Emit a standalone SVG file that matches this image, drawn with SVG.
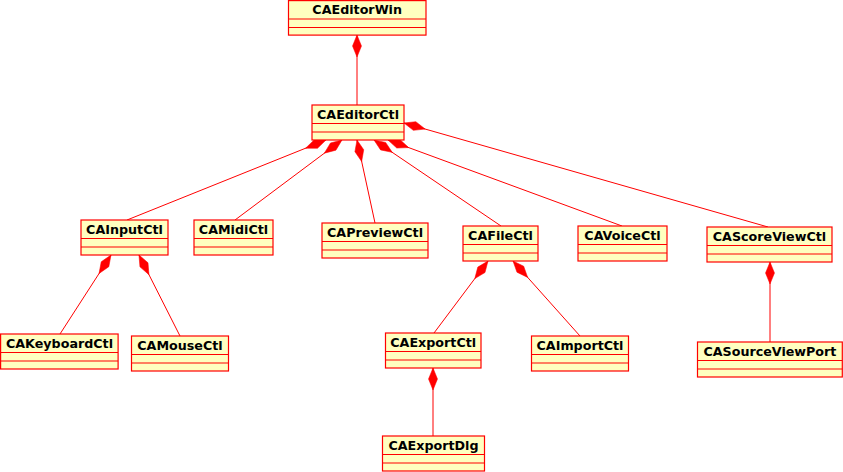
<svg xmlns="http://www.w3.org/2000/svg" width="843" height="472" viewBox="0 0 843 472">
<defs>
<style>
.box{fill:#ffffc0;stroke:#ff0000;stroke-width:1.2}
.div{stroke:#ff0000;stroke-width:1.2}
.t{font-family:"DejaVu Sans","Liberation Sans",sans-serif;font-weight:bold;font-size:12.7px;fill:#000;text-anchor:middle}
.c{stroke:#ff0000;stroke-width:1;fill:none;marker-end:url(#dia)}
</style>
<marker id="dia" markerUnits="userSpaceOnUse" viewBox="-23 -5 24 10" refX="0" refY="0" markerWidth="24" markerHeight="10" orient="auto" overflow="visible">
<path d="M0,0 L-11,-4.5 L-22,0 L-11,4.5 Z" fill="#ff0000" stroke="#ff0000" stroke-width="0.5"/>
</marker>
</defs>
<rect width="843" height="472" fill="#ffffff"/>
<g id="connectors">
<line class="c" x1="357" y1="105" x2="357" y2="35"/>
<line class="c" x1="127" y1="220" x2="326" y2="140"/>
<line class="c" x1="235" y1="220" x2="342" y2="140"/>
<line class="c" x1="375" y1="223" x2="357" y2="140"/>
<line class="c" x1="501" y1="226" x2="374" y2="140"/>
<line class="c" x1="622" y1="226" x2="388" y2="140"/>
<line class="c" x1="768" y1="227" x2="404" y2="123"/>
<line class="c" x1="60" y1="334" x2="111" y2="255"/>
<line class="c" x1="180" y1="336" x2="139" y2="255"/>
<line class="c" x1="434" y1="333" x2="488" y2="261"/>
<line class="c" x1="580" y1="336" x2="513" y2="261"/>
<line class="c" x1="433" y1="436" x2="433" y2="368"/>
<line class="c" x1="770" y1="342" x2="770" y2="262"/>
</g>
<g id="CAEditorWin">
<rect class="box" x="288.5" y="0.6" width="137.5" height="34.5"/>
<line class="div" x1="288.5" y1="19" x2="426" y2="19"/>
<line class="div" x1="288.5" y1="27.5" x2="426" y2="27.5"/>
<text class="t" x="357.2" y="13.8">CAEditorWin</text>
</g>
<g id="CAEditorCtl">
<rect class="box" x="312" y="105" width="92" height="35"/>
<line class="div" x1="312" y1="123.5" x2="404" y2="123.5"/>
<line class="div" x1="312" y1="132" x2="404" y2="132"/>
<text class="t" x="358" y="118.5">CAEditorCtl</text>
</g>
<g id="CAInputCtl">
<rect class="box" x="81" y="220" width="87" height="35"/>
<line class="div" x1="81" y1="238.5" x2="168" y2="238.5"/>
<line class="div" x1="81" y1="247" x2="168" y2="247"/>
<text class="t" x="124.5" y="233.5">CAInputCtl</text>
</g>
<g id="CAMidiCtl">
<rect class="box" x="194" y="220" width="79" height="35"/>
<line class="div" x1="194" y1="238.5" x2="273" y2="238.5"/>
<line class="div" x1="194" y1="247" x2="273" y2="247"/>
<text class="t" x="233.5" y="233.5">CAMidiCtl</text>
</g>
<g id="CAPreviewCtl">
<rect class="box" x="322" y="223" width="106" height="35"/>
<line class="div" x1="322" y1="241.5" x2="428" y2="241.5"/>
<line class="div" x1="322" y1="250" x2="428" y2="250"/>
<text class="t" x="375" y="236.5">CAPreviewCtl</text>
</g>
<g id="CAFileCtl">
<rect class="box" x="463" y="226" width="75" height="35"/>
<line class="div" x1="463" y1="244.5" x2="538" y2="244.5"/>
<line class="div" x1="463" y1="253" x2="538" y2="253"/>
<text class="t" x="500.5" y="239.5">CAFileCtl</text>
</g>
<g id="CAVoiceCtl">
<rect class="box" x="578" y="226" width="89" height="35"/>
<line class="div" x1="578" y1="244.5" x2="667" y2="244.5"/>
<line class="div" x1="578" y1="253" x2="667" y2="253"/>
<text class="t" x="622.5" y="239.5">CAVoiceCtl</text>
</g>
<g id="CAScoreViewCtl">
<rect class="box" x="707" y="227" width="125" height="35"/>
<line class="div" x1="707" y1="245.5" x2="832" y2="245.5"/>
<line class="div" x1="707" y1="254" x2="832" y2="254"/>
<text class="t" x="769.5" y="240.5">CAScoreViewCtl</text>
</g>
<g id="CAKeyboardCtl">
<rect class="box" x="0.6" y="334" width="117.5" height="35"/>
<line class="div" x1="0.6" y1="352.5" x2="118" y2="352.5"/>
<line class="div" x1="0.6" y1="361" x2="118" y2="361"/>
<text class="t" x="59.5" y="347.5">CAKeyboardCtl</text>
</g>
<g id="CAMouseCtl">
<rect class="box" x="131.5" y="336" width="97" height="35"/>
<line class="div" x1="131.5" y1="354.5" x2="228.5" y2="354.5"/>
<line class="div" x1="131.5" y1="363" x2="228.5" y2="363"/>
<text class="t" x="180" y="349.5">CAMouseCtl</text>
</g>
<g id="CAExportCtl">
<rect class="box" x="385.5" y="333" width="95.5" height="35"/>
<line class="div" x1="385.5" y1="351.5" x2="481" y2="351.5"/>
<line class="div" x1="385.5" y1="360" x2="481" y2="360"/>
<text class="t" x="433.2" y="346.5">CAExportCtl</text>
</g>
<g id="CAImportCtl">
<rect class="box" x="531.5" y="336" width="97" height="35"/>
<line class="div" x1="531.5" y1="354.5" x2="628.5" y2="354.5"/>
<line class="div" x1="531.5" y1="363" x2="628.5" y2="363"/>
<text class="t" x="580" y="349.5">CAImportCtl</text>
</g>
<g id="CASourceViewPort">
<rect class="box" x="697.5" y="342" width="144.8" height="35"/>
<line class="div" x1="697.5" y1="360.5" x2="842.3" y2="360.5"/>
<line class="div" x1="697.5" y1="369" x2="842.3" y2="369"/>
<text class="t" x="769.9" y="355.5">CASourceViewPort</text>
</g>
<g id="CAExportDlg">
<rect class="box" x="382.5" y="436" width="102" height="35"/>
<line class="div" x1="382.5" y1="454.5" x2="484.5" y2="454.5"/>
<line class="div" x1="382.5" y1="463" x2="484.5" y2="463"/>
<text class="t" x="433.5" y="449.5">CAExportDlg</text>
</g>
</svg>
